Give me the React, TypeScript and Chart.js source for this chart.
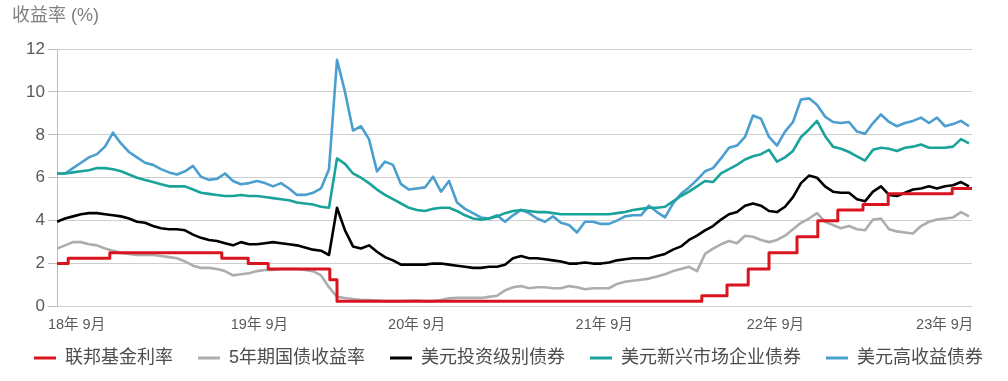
import React, { useEffect, useRef } from "react";
import { Chart, registerables } from "chart.js";

Chart.register(...registerables);

// ---- text ----
const TITLE = "收益率 (%)";
const SERIES_NAMES = [
  "联邦基金利率",
  "5年期国债收益率",
  "美元投资级别债券",
  "美元新兴市场企业债券",
  "美元高收益债券",
];
const X_TICK_LABELS = ["18年 9月", "19年 9月", "20年 9月", "21年 9月", "22年 9月", "23年 9月"];
// positions of the x tick labels on the sample axis (one unit = one sample period)
const X_TICK_POS = [2.44, 25.3, 44.96, 68.4, 89.8, 110.96];
const X_MAX = 114.375;
const Y_MAX = 12;
const Y_STEP = 2;

// ---- Fed funds rate (step series): start of each level and its value ----
const FED_X = [0, 1.4, 6.6, 20.6, 23.9, 26.4, 34.1, 35.0, 80.6, 83.75, 86.4, 89.0, 92.5, 95.1, 97.6, 100.75, 103.9, 111.9, 114.375];
const FED_Y = [2.0, 2.25, 2.5, 2.25, 2.0, 1.75, 1.25, 0.25, 0.5, 1.0, 1.75, 2.5, 3.25, 4.0, 4.5, 4.75, 5.25, 5.5, 5.5];

// ---- 5-year Treasury yield ----
const UST5 = [
  2.7, 2.85, 3.0, 3.0, 2.9, 2.85, 2.7, 2.6, 2.5, 2.45,
  2.4, 2.4, 2.4, 2.35, 2.3, 2.25, 2.1, 1.9, 1.8, 1.8,
  1.75, 1.65, 1.45, 1.5, 1.55, 1.65, 1.7, 1.7, 1.75, 1.75,
  1.75, 1.7, 1.65, 1.45, 0.9, 0.45, 0.4, 0.35, 0.3, 0.3,
  0.28, 0.25, 0.25, 0.25, 0.27, 0.28, 0.25, 0.25, 0.3, 0.38,
  0.4, 0.4, 0.4, 0.4, 0.45, 0.5, 0.75, 0.9, 0.95, 0.85,
  0.9, 0.9, 0.85, 0.85, 0.95, 0.9, 0.8, 0.85, 0.85, 0.85,
  1.05, 1.15, 1.2, 1.25, 1.3, 1.4, 1.5, 1.65, 1.75, 1.85,
  1.65, 2.45, 2.7, 2.9, 3.05, 2.95, 3.3, 3.25, 3.1, 3.0,
  3.1, 3.3, 3.6, 3.9, 4.1, 4.35, 3.95, 3.8, 3.65, 3.75,
  3.6, 3.55, 4.05, 4.1, 3.6, 3.5, 3.45, 3.4, 3.75, 3.95,
  4.05, 4.1, 4.15, 4.4, 4.2,
];

// ---- USD investment grade ----
const USD_IG = [
  3.95, 4.1, 4.2, 4.3, 4.35, 4.35, 4.3, 4.25, 4.2, 4.1,
  3.95, 3.9, 3.75, 3.65, 3.6, 3.6, 3.55, 3.35, 3.2, 3.1,
  3.05, 2.95, 2.85, 3.0, 2.9, 2.9, 2.95, 3.0, 2.95, 2.9,
  2.85, 2.75, 2.65, 2.6, 2.4, 4.6, 3.55, 2.8, 2.7, 2.85,
  2.55, 2.3, 2.15, 1.95, 1.95, 1.95, 1.95, 2.0, 2.0, 1.95,
  1.9, 1.85, 1.8, 1.8, 1.85, 1.85, 1.95, 2.25, 2.35, 2.25,
  2.25, 2.2, 2.15, 2.1, 2.0, 2.0, 2.05, 2.0, 2.0, 2.05,
  2.15, 2.2, 2.25, 2.25, 2.25, 2.35, 2.45, 2.65, 2.8, 3.1,
  3.3, 3.55, 3.75, 4.05, 4.3, 4.4, 4.7, 4.8, 4.7, 4.45,
  4.4, 4.65, 5.1, 5.75, 6.1, 6.0, 5.6, 5.35, 5.3, 5.3,
  5.0, 4.9, 5.35, 5.6, 5.2, 5.15, 5.3, 5.45, 5.5, 5.6,
  5.5, 5.6, 5.65, 5.8, 5.6,
];

// ---- USD emerging-market corporate ----
const EM_CORP = [
  6.2, 6.2, 6.25, 6.3, 6.35, 6.45, 6.45, 6.4, 6.3, 6.15,
  6.0, 5.9, 5.8, 5.7, 5.6, 5.6, 5.6, 5.45, 5.3, 5.25,
  5.2, 5.15, 5.15, 5.2, 5.15, 5.15, 5.1, 5.05, 5.0, 4.95,
  4.85, 4.8, 4.75, 4.65, 4.6, 6.9, 6.65, 6.2, 6.0, 5.75,
  5.45, 5.2, 5.0, 4.8, 4.6, 4.5, 4.45, 4.55, 4.6, 4.6,
  4.45, 4.25, 4.1, 4.05, 4.1, 4.2, 4.35, 4.45, 4.5, 4.45,
  4.4, 4.4, 4.35, 4.3, 4.3, 4.3, 4.3, 4.3, 4.3, 4.3,
  4.35, 4.4, 4.5, 4.55, 4.6, 4.6, 4.65, 4.9, 5.15, 5.35,
  5.6, 5.85, 5.8, 6.2, 6.4, 6.6, 6.85, 7.0, 7.1, 7.3,
  6.75, 6.95, 7.25, 7.9, 8.25, 8.65, 7.95, 7.45, 7.35, 7.2,
  7.0, 6.8, 7.3, 7.4, 7.35, 7.25, 7.4, 7.45, 7.55, 7.4,
  7.4, 7.4, 7.45, 7.8, 7.6,
];

// ---- USD high yield ----
const USD_HY = [
  6.2, 6.2, 6.45, 6.7, 6.95, 7.1, 7.45, 8.1, 7.6, 7.2,
  6.95, 6.7, 6.6, 6.4, 6.25, 6.15, 6.3, 6.55, 6.05, 5.9,
  5.95, 6.2, 5.85, 5.7, 5.75, 5.85, 5.75, 5.6, 5.75, 5.5,
  5.2, 5.2, 5.3, 5.5, 6.4, 11.5, 10.0, 8.2, 8.4, 7.8,
  6.3, 6.75, 6.6, 5.7, 5.45, 5.5, 5.55, 6.05, 5.35, 5.85,
  4.85, 4.55, 4.35, 4.15, 4.1, 4.25, 3.95, 4.25, 4.5, 4.35,
  4.1, 3.95, 4.2, 3.9, 3.8, 3.45, 3.95, 3.95, 3.85, 3.85,
  4.0, 4.2, 4.25, 4.25, 4.7, 4.4, 4.15, 4.8, 5.25, 5.55,
  5.9, 6.3, 6.45, 6.9, 7.4, 7.5, 7.9, 8.9, 8.75, 7.9,
  7.5, 8.15, 8.6, 9.65, 9.7, 9.4, 8.85, 8.6, 8.55, 8.6,
  8.15, 8.05, 8.55, 8.95, 8.6, 8.4, 8.55, 8.65, 8.8, 8.55,
  8.8, 8.4, 8.5, 8.65, 8.4,
];

const COLORS = ["#d9141e", "#adadad", "#000000", "#1aa39a", "#4a9fcf"];
const FONT = '"Liberation Sans", "Noto Sans CJK SC", sans-serif';

const toPoints = (vals: number[]) => vals.map((v, i) => ({ x: i, y: v }));

const titlePlugin = {
  id: "topTitle",
  afterDraw(chart: any) {
    const ctx = chart.ctx;
    ctx.save();
    ctx.font = `18px ${FONT}`;
    ctx.fillStyle = "#7f7f7f";
    ctx.textAlign = "left";
    ctx.textBaseline = "top";
    ctx.fillText(TITLE, 12, 7);
    ctx.restore();
  },
};

// nudges the legend row slightly right, and lets the x labels extend below
// their layout box (Chart.js clips labels to the scale box)
const layoutTweaks = {
  id: "layoutTweaks",
  afterLayout(chart: any) {
    const lg = chart.legend;
    if (lg) {
      lg.left += 4.5;
      lg.right += 4.5;
    }
    const xs = chart.scales.x;
    if (xs) {
      xs.bottom = xs.top + 40;
    }
  },
};

export default function App() {
  const ref = useRef<HTMLCanvasElement | null>(null);

  useEffect(() => {
    if (!ref.current) return;
    const series = [
      FED_X.map((x, i) => ({ x, y: FED_Y[i] })),
      toPoints(UST5),
      toPoints(USD_IG),
      toPoints(EM_CORP),
      toPoints(USD_HY),
    ];
    const defaultLabels = (Chart as any).defaults.plugins.legend.labels.generateLabels;
    const chart = new Chart(ref.current, {
      type: "line",
      data: {
        datasets: series.map((d, i) => ({
          label: SERIES_NAMES[i],
          data: d,
          borderColor: COLORS[i],
          backgroundColor: COLORS[i],
          borderWidth: i === 0 ? 3 : 2.6,
          pointRadius: 0,
          tension: 0,
          stepped: i === 0 ? true : false,
          borderJoinStyle: "round" as const,
          fill: false,
        })),
      },
      options: {
        animation: false,
        responsive: false,
        devicePixelRatio: 1,
        layout: { padding: { top: 49, left: 0, right: 0, bottom: 4 } },
        font: { family: FONT },
        plugins: {
          title: { display: false },
          tooltip: { enabled: false },
          legend: {
            display: true,
            position: "bottom",
            labels: {
              font: { size: 18, family: FONT },
              color: "#4d4d4d",
              usePointStyle: true,
              pointStyle: "line",
              pointStyleWidth: 22,
              padding: 25,
              generateLabels: (c: any) =>
                defaultLabels(c).map((it: any) => ({ ...it, lineWidth: 3 })),
            },
          },
        },
        scales: {
          x: {
            type: "linear",
            min: 0,
            max: X_MAX,
            grid: { display: false, drawTicks: false },
            border: { display: false },
            afterBuildTicks: (s: any) => {
              s.ticks = X_TICK_POS.map((v) => ({ value: v }));
            },
            afterFit: (s: any) => {
              s.height = 17.5;
            },
            ticks: {
              autoSkip: false,
              maxRotation: 0,
              padding: 10,
              color: "#595959",
              font: { size: 14.5, family: FONT },
              callback: (_v: any, i: number) => X_TICK_LABELS[i],
            },
          },
          y: {
            type: "linear",
            position: "left",
            min: 0,
            max: Y_MAX,
            afterFit: (s: any) => {
              s.width = 57;
            },
            grid: { color: "#cfcfcf", tickLength: 9, tickColor: "#bfbfbf", lineWidth: 1 },
            border: { display: true, color: "#bfbfbf", width: 1 },
            ticks: {
              stepSize: Y_STEP,
              padding: 3,
              color: "#595959",
              font: { size: 17, family: FONT },
            },
          },
          yR: {
            type: "linear",
            position: "right",
            display: true,
            grid: { display: false, drawTicks: false },
            border: { display: false },
            ticks: { display: false },
            afterFit: (s: any) => {
              s.width = 36;
            },
          },
        },
      },
      plugins: [titlePlugin, layoutTweaks],
    } as any);
    return () => chart.destroy();
  }, []);

  return (
    <div style={{ position: "absolute", left: 0, top: 0, width: 1008, height: 381, background: "#fff" }}>
      <canvas ref={ref} width={1008} height={381} style={{ display: "block" }} />
    </div>
  );
}
